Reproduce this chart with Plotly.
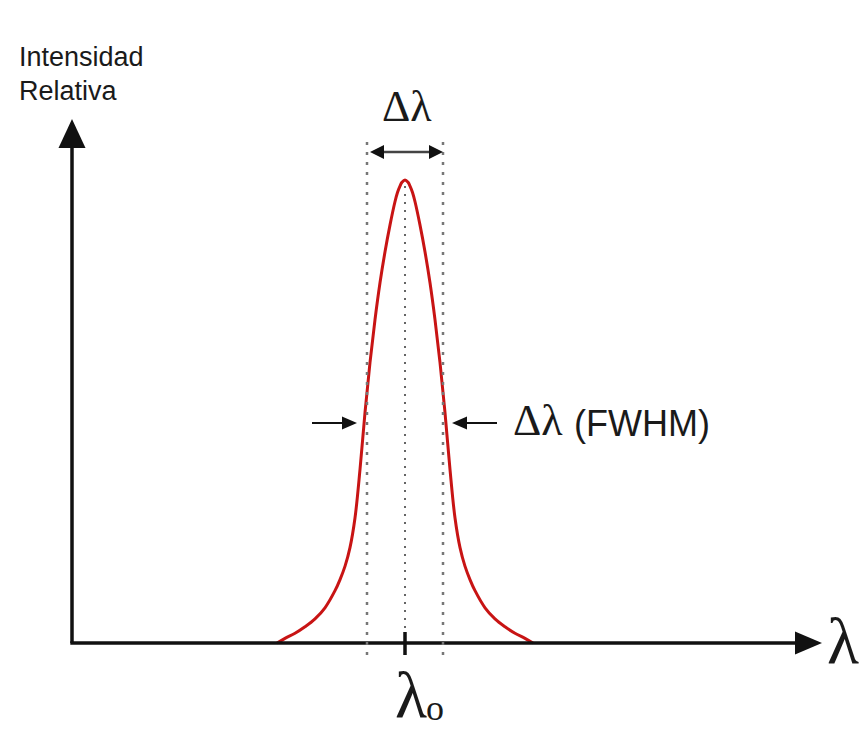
import plotly.graph_objects as go

# ---- data: offset from lambda_0 (units of the FWHM) and the
# relative intensity of the line at that offset (symmetric profile)
offset = [0.0, 0.040, 0.066, 0.099, 0.132, 0.197, 0.263, 0.329, 0.395, 0.461, 0.526, 0.592,
          0.658, 0.724, 0.789, 0.855, 0.921, 1.053, 1.184, 1.316, 1.447, 1.579, 1.684]
intensity = [1.0, 0.995, 0.987, 0.973, 0.953, 0.903, 0.845, 0.778, 0.698, 0.605, 0.498, 0.375,
             0.270, 0.206, 0.166, 0.137, 0.113, 0.076, 0.052, 0.035, 0.021, 0.010, 0.0]
fwhm_edges = [-0.5, 0.5]
center_wl = 0.0
half_max_level = 0.475
y_label = ["Intensidad", "Relativa"]

# full profile, left to right
wavelength = [-v for v in offset[::-1]] + offset[1:]
profile = intensity[::-1] + intensity[1:]

W, H = 861, 733
CX, SX = 405.0, 76.0      # pixel of lambda_0, pixels per FWHM unit
BY, SY = 643.0, 463.0     # pixel of baseline, pixels per unit intensity


def X(px):
    return (px - CX) / SX


def Y(py):
    return (BY - py) / SY


fig = go.Figure()
fig.add_trace(go.Scatter(x=wavelength, y=profile, mode="lines",
                         line=dict(color="#c81414", width=3, shape="spline", smoothing=1.0),
                         hoverinfo="skip"))

shapes = []
black = "#111111"
# axes
shapes.append(dict(type="line", x0=X(72), y0=Y(BY), x1=X(72), y1=Y(145),
                   line=dict(color=black, width=3.5)))
shapes.append(dict(type="path", path=f"M {X(72)} {Y(119)} L {X(58.5)} {Y(148)} L {X(85.5)} {Y(148)} Z",
                   fillcolor=black, line=dict(color=black, width=0)))
shapes.append(dict(type="line", x0=X(70.3), y0=Y(BY), x1=X(797), y1=Y(BY),
                   line=dict(color=black, width=3.5)))
shapes.append(dict(type="path", path=f"M {X(822)} {Y(BY)} L {X(795)} {Y(BY-11.5)} L {X(795)} {Y(BY+11.5)} Z",
                   fillcolor=black, line=dict(color=black, width=0)))
# FWHM dotted lines
for e in fwhm_edges:
    shapes.append(dict(type="line", x0=e, y0=Y(142), x1=e, y1=Y(656),
                       line=dict(color="#777777", width=2.5, dash="3px,7px")))
# centre dotted line
shapes.append(dict(type="line", x0=center_wl, y0=Y(186), x1=center_wl, y1=Y(BY),
                   line=dict(color="#333333", width=1.5, dash="2px,6px")))
# centre tick
shapes.append(dict(type="line", x0=center_wl, y0=Y(632), x1=center_wl, y1=Y(655),
                   line=dict(color=black, width=3.5)))
# top double arrow
ya = 152
shapes.append(dict(type="line", x0=X(380), y0=Y(ya), x1=X(433), y1=Y(ya),
                   line=dict(color="#444444", width=2.5)))
shapes.append(dict(type="path", path=f"M {X(370)} {Y(ya)} L {X(384)} {Y(ya-7)} L {X(384)} {Y(ya+7)} Z",
                   fillcolor=black, line=dict(color=black, width=0)))
shapes.append(dict(type="path", path=f"M {X(443)} {Y(ya)} L {X(429)} {Y(ya-7)} L {X(429)} {Y(ya+7)} Z",
                   fillcolor=black, line=dict(color=black, width=0)))
# half-max arrows
yh = BY - half_max_level * SY
shapes.append(dict(type="line", x0=X(312), y0=Y(yh), x1=X(345), y1=Y(yh),
                   line=dict(color=black, width=2)))
shapes.append(dict(type="path", path=f"M {X(357)} {Y(yh)} L {X(342)} {Y(yh-6.5)} L {X(342)} {Y(yh+6.5)} Z",
                   fillcolor=black, line=dict(color=black, width=0)))
shapes.append(dict(type="line", x0=X(463), y0=Y(yh), x1=X(497), y1=Y(yh),
                   line=dict(color=black, width=2)))
shapes.append(dict(type="path", path=f"M {X(452)} {Y(yh)} L {X(467)} {Y(yh-6.5)} L {X(467)} {Y(yh+6.5)} Z",
                   fillcolor=black, line=dict(color=black, width=0)))

serif = "Liberation Serif"
sans = "Liberation Sans"
tc = "#1a1a1a"
ann = []
ann.append(dict(x=X(17), y=Y(57), text=y_label[0], xanchor="left", yanchor="middle",
                font=dict(family=sans, size=27, color=tc)))
ann.append(dict(x=X(17), y=Y(91), text=y_label[1], xanchor="left", yanchor="middle",
                font=dict(family=sans, size=27, color=tc)))
ann.append(dict(x=X(407), y=Y(106), text="Δλ", xanchor="center", yanchor="middle",
                font=dict(family=serif, size=44, color=tc)))
ann.append(dict(x=X(511), y=Y(420), text="Δλ", xanchor="left", yanchor="middle",
                font=dict(family=serif, size=44, color=tc)))
ann.append(dict(x=X(572), y=Y(423), text="(FWHM)", xanchor="left", yanchor="middle",
                font=dict(family=sans, size=36, color=tc)))
ann.append(dict(x=X(411), y=Y(694), text="λ", xanchor="center", yanchor="middle",
                font=dict(family=serif, size=66, color=tc)))
ann.append(dict(x=X(435), y=Y(708), text="o", xanchor="center", yanchor="middle",
                font=dict(family=serif, size=36, color=tc)))
ann.append(dict(x=X(860), y=Y(640), text="λ", xanchor="right", yanchor="middle", xshift=1,
                font=dict(family=serif, size=66, color=tc)))
for a in ann:
    a.update(xref="x", yref="y", showarrow=False)

fig.update_layout(
    width=W, height=H,
    margin=dict(l=0, r=0, t=0, b=0),
    paper_bgcolor="white", plot_bgcolor="white",
    showlegend=False,
    shapes=shapes, annotations=ann,
    xaxis=dict(range=[X(0), X(W)], visible=False, fixedrange=True),
    yaxis=dict(range=[Y(H), Y(0)], visible=False, fixedrange=True),
)
fig.write_html("out.html", config={"displayModeBar": False})
